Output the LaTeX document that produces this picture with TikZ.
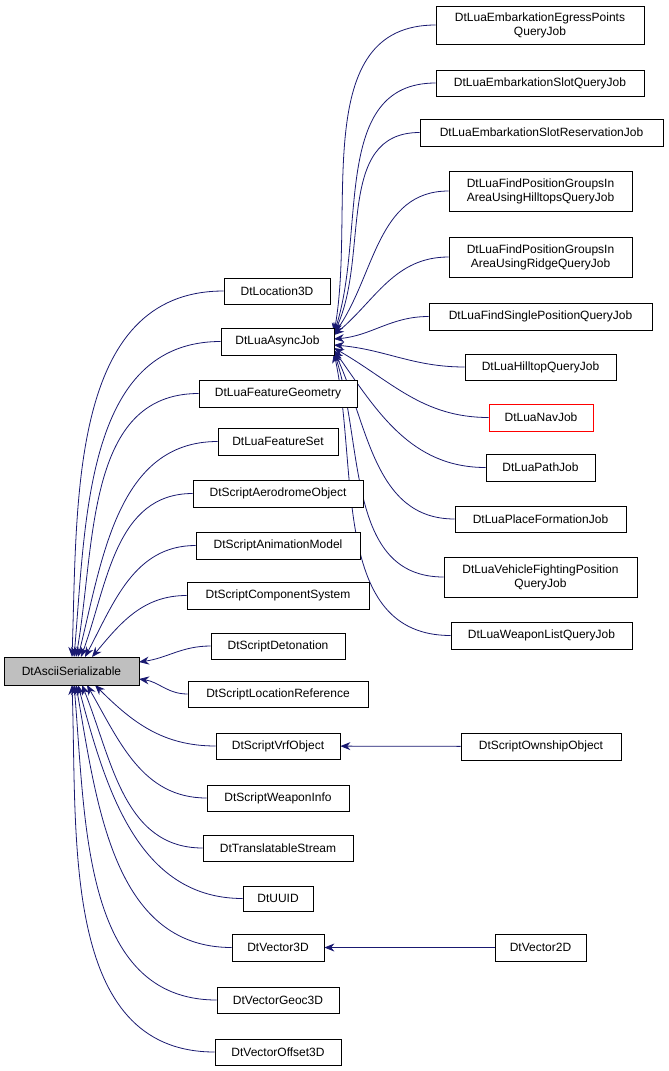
\documentclass[tikz,border=0pt]{standalone}
\usepackage{fontspec}
\setmainfont{Liberation Sans}
\usetikzlibrary{arrows.meta}
\pgfdeclarelayer{bg}
\pgfsetlayers{bg,main}
\begin{document}
\begin{tikzpicture}[x=1pt,y=-1pt,
 box/.style={draw=black,fill=white,inner sep=0pt,align=center,line width=0.8pt,font=\fontsize{12}{14}\selectfont},
 edge/.style={draw={rgb,255:red,25;green,25;blue,112},line width=0.8pt,-{Stealth[length=10pt,width=8pt]}}]
\useasboundingbox (0,0) rectangle (669,1071);
\newcommand\bx[5]{\node[box,minimum width=#3,minimum height=#4] (#1) at (#2) {#5};}
\node[box,fill={rgb,255:red,191;green,191;blue,191},minimum width=135,minimum height=28] (ascii) at (71.5,671) {DtAsciiSerializable};
\bx{loc}{277,291}{106}{26}{DtLocation3D}
\bx{async}{277.5,341.5}{113}{27}{DtLuaAsyncJob}
\bx{fgeom}{278,393.5}{158}{27}{DtLuaFeatureGeometry}
\bx{fset}{278,441.5}{120}{27}{DtLuaFeatureSet}
\bx{aero}{278,493.5}{170}{27}{DtScriptAerodromeObject}
\bx{anim}{278,545.5}{164}{27}{DtScriptAnimationModel}
\bx{comp}{278,595.5}{182}{27}{DtScriptComponentSystem}
\bx{deto}{278,646}{134}{26}{DtScriptDetonation}
\bx{locref}{278,694}{180}{26}{DtScriptLocationReference}
\bx{vrf}{278,746}{124}{26}{DtScriptVrfObject}
\bx{weap}{278,798}{142}{26}{DtScriptWeaponInfo}
\bx{trans}{278,848}{150}{26}{DtTranslatableStream}
\bx{uuid}{278,898.5}{70}{25}{DtUUID}
\bx{v3}{278,947.5}{92}{27}{DtVector3D}
\bx{geoc}{278,1000}{122}{26}{DtVectorGeoc3D}
\bx{off}{278,1052}{126}{26}{DtVectorOffset3D}
\bx{egress}{540,25}{208}{38}{DtLuaEmbarkationEgressPoints\\QueryJob}
\bx{slotq}{540,83}{208}{26}{DtLuaEmbarkationSlotQueryJob}
\bx{slotr}{541.5,132.5}{243}{27}{DtLuaEmbarkationSlotReservationJob}
\bx{hill}{540.5,191}{183}{40}{DtLuaFindPositionGroupsIn\\AreaUsingHilltopsQueryJob}
\bx{ridge}{540.5,257}{183}{40}{DtLuaFindPositionGroupsIn\\AreaUsingRidgeQueryJob}
\bx{single}{540.5,316.5}{223}{27}{DtLuaFindSinglePositionQueryJob}
\bx{hq}{540.5,367}{151}{26}{DtLuaHilltopQueryJob}
\node[box,draw=red,minimum width=104,minimum height=27] (nav) at (541,417.5) {DtLuaNavJob};
\bx{path}{540.5,467.5}{109}{27}{DtLuaPathJob}
\bx{place}{540.5,519}{171}{26}{DtLuaPlaceFormationJob}
\bx{veh}{540.5,577}{193}{40}{DtLuaVehicleFightingPosition\\QueryJob}
\bx{wl}{541.5,635.5}{181}{27}{DtLuaWeaponListQueryJob}
\bx{own}{541,746.5}{160}{27}{DtScriptOwnshipObject}
\bx{v2}{540.5,947.5}{91}{27}{DtVector2D}
\begin{pgfonlayer}{bg}
\foreach \n/\ex/\ey/\a in {loc/72/657/88,async/74/657/85,fgeom/76/657/80,fset/78/657/76,aero/81/657/70,anim/85/657/62,comp/92/657/50,
 deto/139/662/8,locref/139/679/-8,vrf/95/685/-45,weap/87/685/-60,trans/82/685/-68,uuid/78/685/-75,v3/76/685/-80,geoc/74/685/-85,off/72/685/-88}
 \draw[edge] (\n.west) to[out=180,in=\a] (\ex,\ey);
\foreach \n/\ey/\a in {egress/333/80,slotq/333/72,slotr/333/65,hill/334/55,ridge/335/40,single/339/5}
 \draw[edge] (\n.west) to[out=180,in=\a] (334,\ey);
\foreach \n/\ey/\a in {hq/345/-5,nav/348/-30,path/350/-55,place/351/-65,veh/352/-72,wl/353/-78}
 \draw[edge] (\n.west) to[out=180,in=\a] (334,\ey);
\draw[edge] (own) -- (vrf);
\draw[edge] (v2) -- (v3);
\end{pgfonlayer}
\end{tikzpicture}
\end{document}
